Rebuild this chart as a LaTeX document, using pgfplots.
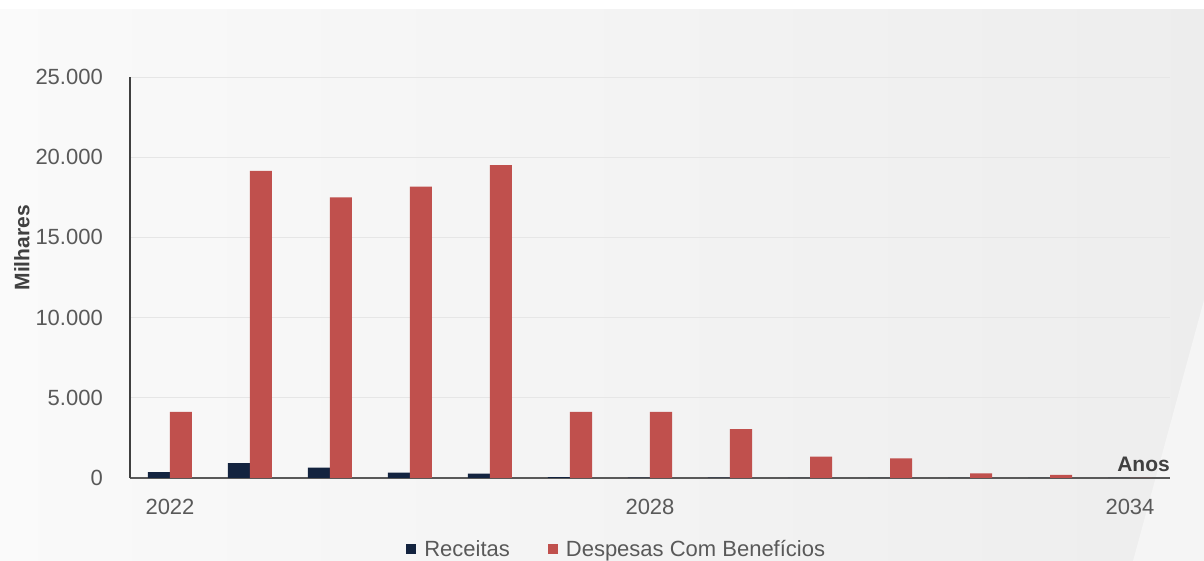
\documentclass[border=0pt]{standalone}
\usepackage{fontspec}
\setmainfont{Liberation Sans}
\usepackage{pgfplots}
\pgfplotsset{compat=1.18}
\definecolor{navybar}{HTML}{13233F}
\definecolor{redbar}{HTML}{C0504D}
\definecolor{txtgrey}{HTML}{595959}
\definecolor{darkgrey}{HTML}{404040}
\definecolor{gridgrey}{HTML}{E6E6E6}
\begin{document}
\begin{tikzpicture}[x=1pt,y=1pt]
\useasboundingbox (-130,-83) rectangle (1074,478);
\fill[white] (-130,-83) rectangle (1074,478);
\shade[left color=white!98!black,right color=white!93!black] (-130,-83) rectangle (1074,468);
\fill[white!96!black] (1074,178) -- (1003,-83) -- (1074,-83) -- cycle;
\begin{axis}[
  at={(0,0)}, anchor=origin,
  scale only axis, width=1040pt, height=401pt,
  xmin=2021.5, xmax=2034.5, ymin=0, ymax=25000,
  axis lines*=left,
  x axis line style={draw=txtgrey, line width=1.8pt},
  y axis line style={draw=darkgrey, line width=1.2pt},
  ytick={0,5000,10000,15000,20000,25000},
  xtick={2022,2028,2034}, xticklabels={2022,2028,2034},
  major tick length=0pt,
  ymajorgrids, grid style={draw=gridgrey, line width=0.8pt},
  scaled y ticks=false,
  yticklabel={\pgfmathprintnumber[fixed,1000 sep={.}]{\tick}},
  /pgf/number format/assume math mode=true,
  ticklabel style={font=\fontsize{22}{26}\selectfont, text=txtgrey, inner sep=0pt},
  yticklabel style={anchor=east, xshift=-27pt},
  xticklabel style={anchor=north, yshift=-21pt},
  ylabel={Milhares},
  every axis y label/.style={at={(axis description cs:-0.104,0.574)}, rotate=90, anchor=center,
    font=\fontsize{21}{25}\selectfont\bfseries, text=darkgrey},
  ybar, bar width=22pt,
  legend columns=2,
  legend style={at={(axis description cs:0.468,-0.177)}, anchor=center, draw=none, fill=none,
    font=\fontsize{22}{26}\selectfont, text=txtgrey,
    /tikz/every odd column/.append style={column sep=6pt},
    /tikz/every even column/.append style={column sep=36pt}},
  legend image code/.code={\fill[#1,draw=none] (0pt,-5pt) rectangle (10pt,5pt);},
  clip=false,
]
\addplot[fill=navybar, draw=none, bar shift=-11pt] coordinates {
(2022,360) (2023,930) (2024,640) (2025,330) (2026,270) (2027,50) (2028,30) (2029,20) (2030,10) (2031,10) (2032,0) (2033,0) (2034,0)};
\addplot[fill=redbar, draw=none, bar shift=11pt] coordinates {
(2022,4130) (2023,19150) (2024,17500) (2025,18160) (2026,19510) (2027,4130) (2028,4130) (2029,3050) (2030,1330) (2031,1230) (2032,290) (2033,200) (2034,0)};
\legend{Receitas, Despesas Com Benefícios}
\node[anchor=south east, inner sep=0pt, font=\fontsize{21}{25}\selectfont\bfseries, text=darkgrey] at (rel axis cs:1,0) [yshift=6pt] {Anos};
\end{axis}
\end{tikzpicture}
\end{document}
